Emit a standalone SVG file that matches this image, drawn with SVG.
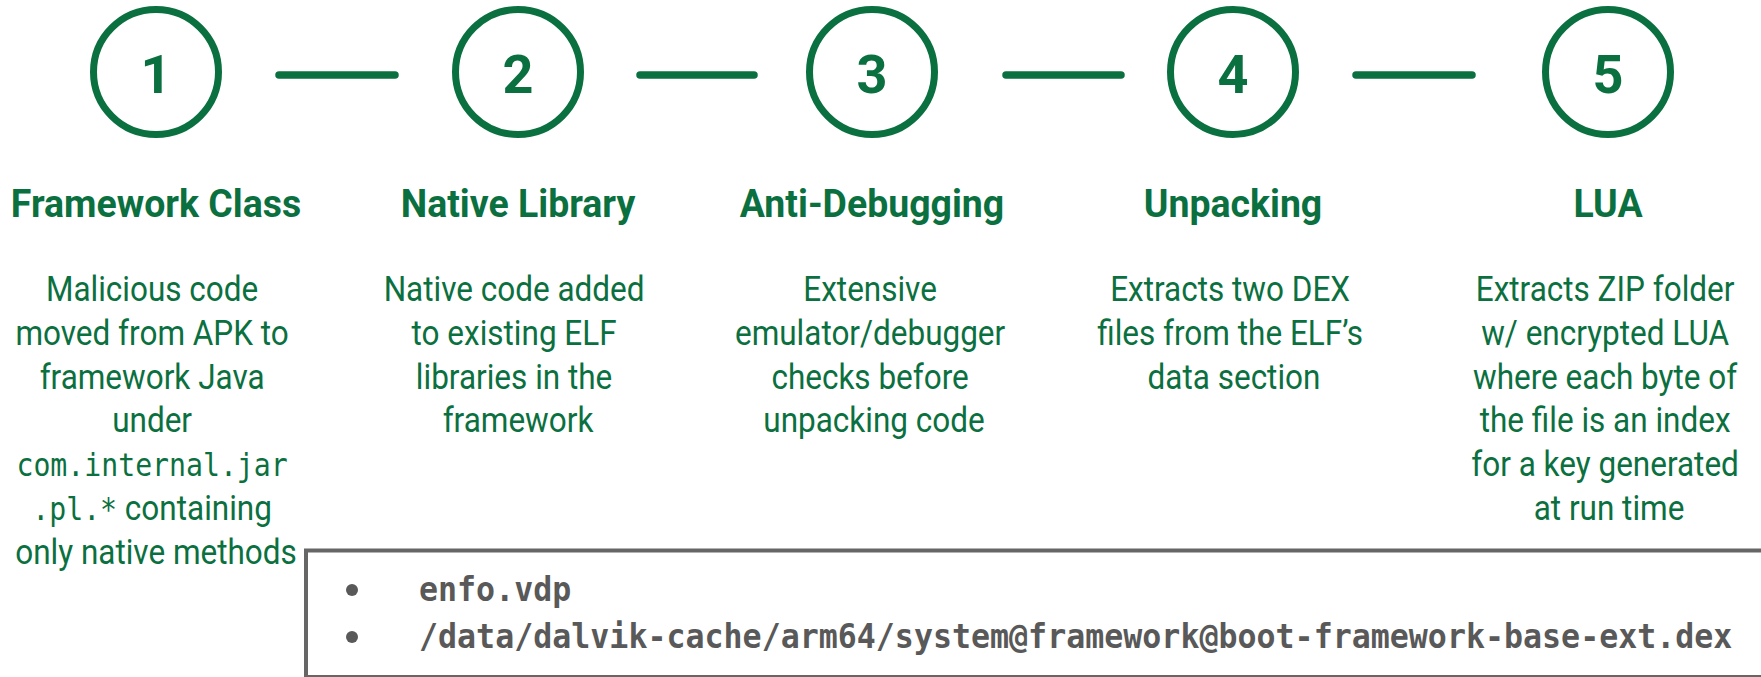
<svg xmlns="http://www.w3.org/2000/svg" width="1761" height="677" viewBox="0 0 1761 677">
<style>
.ring{fill:none;stroke:#0b7040;stroke-width:7}
.num{font-family:Roboto,"Liberation Sans",sans-serif;font-weight:700;font-size:54px;fill:#0b7040;text-anchor:middle}
.title{font-family:Roboto,"Liberation Sans",sans-serif;font-weight:700;font-size:39px;fill:#0b7040;text-anchor:middle}
.desc{font-family:Roboto,"Liberation Sans",sans-serif;font-size:35px;fill:#0b7040;text-anchor:middle}
.mono{font-family:"DejaVu Sans Mono","Liberation Mono",monospace;font-size:31.3px}
.conn{stroke:#0b7040;stroke-width:7.5;stroke-linecap:round;fill:none}
.box{fill:#ffffff;stroke:#666666;stroke-width:4}
.code{font-family:"DejaVu Sans Mono","Liberation Mono",monospace;font-weight:700;font-size:34px;fill:#595959}
.dot{fill:#595959}
</style>
<rect width="1761" height="677" fill="#ffffff"/>
<g id="connectors">
<line class="conn" x1="279" y1="75" x2="395" y2="75"/>
<line class="conn" x1="640" y1="75" x2="754" y2="75"/>
<line class="conn" x1="1006" y1="75" x2="1121" y2="75"/>
<line class="conn" x1="1356" y1="75" x2="1472" y2="75"/>
</g>
<g id="step1">
<circle class="ring" cx="156" cy="72" r="62.5"/>
<text class="num" x="156" y="93">1</text>
<text class="title" transform="translate(156,217) scale(0.96,1)" x="0" y="0">Framework Class</text>
<text class="desc" transform="translate(156,0) scale(0.9,1)">
<tspan x="0" y="301">Malicious code</tspan>
<tspan x="0" y="345">moved from APK to</tspan>
<tspan x="0" y="389">framework Java</tspan>
<tspan x="0" y="432">under</tspan>
<tspan x="0" y="476" class="mono">com.internal.jar</tspan>
<tspan x="0" y="520"><tspan class="mono">.pl.*</tspan> containing</tspan>
<tspan x="0" y="564">only native methods</tspan>
</text>
</g>
<g id="step2">
<circle class="ring" cx="518" cy="72" r="62.5"/>
<text class="num" x="518" y="93">2</text>
<text class="title" transform="translate(518,217) scale(0.96,1)" x="0" y="0">Native Library</text>
<text class="desc" transform="translate(518,0) scale(0.9,1)">
<tspan x="0" y="301">Native code added</tspan>
<tspan x="0" y="345">to existing ELF</tspan>
<tspan x="0" y="389">libraries in the</tspan>
<tspan x="0" y="432">framework</tspan>
</text>
</g>
<g id="step3">
<circle class="ring" cx="872" cy="72" r="62.5"/>
<text class="num" x="872" y="93">3</text>
<text class="title" transform="translate(872,217) scale(0.96,1)" x="0" y="0">Anti-Debugging</text>
<text class="desc" transform="translate(874,0) scale(0.9,1)">
<tspan x="0" y="301">Extensive</tspan>
<tspan x="0" y="345">emulator/debugger</tspan>
<tspan x="0" y="389">checks before</tspan>
<tspan x="0" y="432">unpacking code</tspan>
</text>
</g>
<g id="step4">
<circle class="ring" cx="1233" cy="72" r="62.5"/>
<text class="num" x="1233" y="93">4</text>
<text class="title" transform="translate(1233,217) scale(0.96,1)" x="0" y="0">Unpacking</text>
<text class="desc" transform="translate(1234,0) scale(0.9,1)">
<tspan x="0" y="301">Extracts two DEX</tspan>
<tspan x="0" y="345">files from the ELF’s</tspan>
<tspan x="0" y="389">data section</tspan>
</text>
</g>
<g id="step5">
<circle class="ring" cx="1608" cy="72" r="62.5"/>
<text class="num" x="1608" y="93">5</text>
<text class="title" transform="translate(1608,217) scale(0.96,1)" x="0" y="0">LUA</text>
<text class="desc" transform="translate(1609,0) scale(0.9,1)">
<tspan x="0" y="301">Extracts ZIP folder</tspan>
<tspan x="0" y="345">w/ encrypted LUA</tspan>
<tspan x="0" y="389">where each byte of</tspan>
<tspan x="0" y="432">the file is an index</tspan>
<tspan x="0" y="476">for a key generated</tspan>
<tspan x="0" y="520">at run time</tspan>
</text>
</g>
<g id="paths-box">
<rect class="box" x="306" y="550.5" width="1500" height="126.5"/>
<circle class="dot" cx="352" cy="590" r="6"/>
<circle class="dot" cx="352" cy="637" r="6"/>
<text class="code" transform="translate(419,601) scale(0.93,1)" x="0" y="0">enfo.vdp</text>
<text class="code" transform="translate(419,648) scale(0.93,1)" x="0" y="0">/data/dalvik-cache/arm64/system@framework@boot-framework-base-ext.dex</text>
</g>
</svg>
